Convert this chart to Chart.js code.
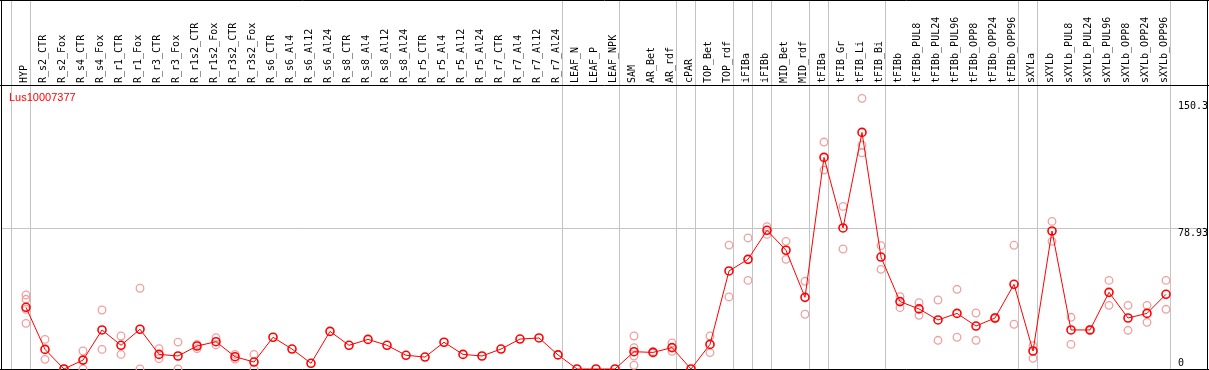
<!DOCTYPE html>
<html><head><meta charset="utf-8">
<script src="https://cdn.jsdelivr.net/npm/chart.js@4/dist/chart.umd.min.js"></script>
<style>html,body{margin:0;padding:0;background:#fff;overflow:hidden}canvas{display:block}</style>
</head><body>
<canvas id="c" width="1209" height="370"></canvas>
<script>
const N = null;
const categories = ["HYP","R_s2_CTR","R_s2_Fox","R_s4_CTR","R_s4_Fox","R_r1_CTR","R_r1_Fox","R_r3_CTR","R_r3_Fox","R_r1s2_CTR",
"R_r1s2_Fox","R_r3s2_CTR","R_r3s2_Fox","R_s6_CTR","R_s6_Al4","R_s6_Al12","R_s6_Al24","R_s8_CTR","R_s8_Al4","R_s8_Al12",
"R_s8_Al24","R_r5_CTR","R_r5_Al4","R_r5_Al12","R_r5_Al24","R_r7_CTR","R_r7_Al4","R_r7_Al12","R_r7_Al24","LEAF_N",
"LEAF_P","LEAF_NPK","SAM","AR_Bet","AR_rdf","cPAR","TOP_Bet","TOP_rdf","iFIBa","iFIBb",
"MID_Bet","MID_rdf","tFIBa","tFIB_Gr","tFIB_Li","tFIB_Bi","tFIBb","tFIBb_PUL8","tFIBb_PUL24","tFIBb_PUL96",
"tFIBb_OPP8","tFIBb_OPP24","tFIBb_OPP96","sXYLa","sXYLb","sXYLb_PUL8","sXYLb_PUL24","sXYLb_PUL96","sXYLb_OPP8","sXYLb_OPP24",
"sXYLb_OPP96"];
const meanValues = [34.6,11.0,0,5.0,21.9,13.3,22.3,8.2,7.3,12.9,
15.3,6.9,3.9,17.8,11.2,3.2,21.1,13.3,16.6,13.3,
7.7,6.7,15.0,8.2,7.3,11.2,16.8,17.4,7.9,0,
0,0,9.7,9.3,12.0,0,13.8,55.0,61.5,77.8,
66.6,40.2,118.7,79.1,132.7,62.8,37.8,33.7,27.5,31.2,
24.1,28.6,47.5,10.1,77.4,21.9,21.9,43.0,28.6,31.2,
41.9];
const rep1 = [41.5,16.6,0,10.1,33.1,18.5,45.3,11.4,15.1,13.8,
17.6,8.2,8.2,N,N,N,N,N,N,N,
N,N,N,N,N,N,N,N,N,N,
N,N,18.5,9.7,14.6,N,18.5,69.5,73.5,79.8,
71.6,49.2,127.3,91.2,151.8,69.2,40.6,37.2,38.7,44.7,
31.4,28.9,69.4,13.1,82.8,29.0,22.2,49.7,35.7,35.7,
49.7];
const rep2 = [39.1,5.4,0,0,11.0,8.2,0,5.8,0,11.4,
13.5,5.6,0,N,N,N,N,N,N,N,
N,N,N,N,N,N,N,N,N,N,
N,N,12.0,9.0,9.9,N,9.2,40.4,49.7,75.5,
61.5,30.7,111.6,67.3,125.6,55.9,34.4,30.1,16.1,17.8,
16.1,28.2,25.1,6.0,71.6,13.8,21.6,35.7,21.7,26.2,
33.5];
const rep3 = [33.5,N,N,N,N,N,N,N,N,N,
N,N,N,N,N,N,N,N,N,N,
N,N,N,N,N,N,N,N,N,N,
N,N,7.3,N,N,N,N,N,N,N,
N,N,N,N,121.3,N,N,N,N,N,
N,N,N,N,N,N,N,N,N,N,
N];
const rep4 = [25.6,N,N,N,N,N,N,N,N,N,
N,N,N,N,N,N,N,N,N,N,
N,N,N,N,N,N,N,N,N,N,
N,N,2.1,N,N,N,N,N,N,N,
N,N,N,N,N,N,N,N,N,N,
N,N,N,N,N,N,N,N,N,N,
N];
const groupEnds = [-1,0,28,31,34,35,37,38,39,41,42,45,52,53,60];
const yTickValues = [150.3, 78.93, 0];
const yTickLabels = ["150.3", "78.93", "0"];
const gridValue = 78.93;
const seriesName = "Lus10007377";

const MONO = '10px "DejaVu Sans Mono", monospace';
const RED = '#ff0000';
const PINK = '#f0a0a0';
const GRAY = '#c4c4c4';

const decor = {
  id: 'decor',
  beforeDraw(chart) {
    const ctx = chart.ctx;
    ctx.save();
    ctx.fillStyle = '#fff';
    ctx.fillRect(0, 0, chart.width, chart.height);
    ctx.restore();
  },
  beforeDatasetsDraw(chart) {
    const ctx = chart.ctx, xs = chart.scales.x, ys = chart.scales.y;
    const step = xs.getPixelForValue(1) - xs.getPixelForValue(0);
    const px = i => xs.getPixelForValue(0) + i * step;
    ctx.save();
    ctx.strokeStyle = GRAY; ctx.lineWidth = 1;
    ctx.beginPath();
    groupEnds.forEach(i => {
      const x = Math.round(px(i) + 4) + 0.5;
      ctx.moveTo(x, 0); ctx.lineTo(x, 369);
    });
    const gy = Math.round(ys.getPixelForValue(gridValue)) + 0.5;
    ctx.moveTo(1, gy); ctx.lineTo(1208, gy);
    ctx.stroke();
    ctx.strokeStyle = '#000';
    ctx.beginPath();
    ctx.moveTo(0, 0.5); ctx.lineTo(1209, 0.5);
    ctx.moveTo(0, 85.5); ctx.lineTo(1209, 85.5);
    ctx.moveTo(0, 369.5); ctx.lineTo(1209, 369.5);
    ctx.moveTo(1.5, 0); ctx.lineTo(1.5, 370);
    ctx.moveTo(1207.5, 0); ctx.lineTo(1207.5, 370);
    ctx.stroke();
    ctx.fillStyle = '#000';
    ctx.font = MONO;
    ctx.textAlign = 'left';
    ctx.textBaseline = 'alphabetic';
    categories.forEach((lab, i) => {
      ctx.save();
      ctx.translate(Math.round(px(i)) + 0.5, 83);
      ctx.rotate(-Math.PI / 2);
      ctx.fillText(lab, 0, 0);
      ctx.restore();
    });
    yTickValues.forEach((v, k) => {
      const y = ys.getPixelForValue(v);
      if (v === 0) { ctx.textBaseline = 'alphabetic'; ctx.fillText(yTickLabels[k], 1178, y - 3); }
      else { ctx.textBaseline = 'top'; ctx.fillText(yTickLabels[k], 1178, y); }
    });
    ctx.fillStyle = RED;
    ctx.font = '11px "Liberation Sans", Arial, sans-serif';
    ctx.textBaseline = 'alphabetic';
    ctx.fillText(seriesName, 9, 101);
    ctx.restore();
  }
};

const repStyle = (data) => ({
  data, showLine: false, borderColor: PINK, backgroundColor: 'transparent',
  pointRadius: 3.8, pointBorderWidth: 1.3, pointBorderColor: PINK, pointBackgroundColor: 'transparent', clip: false
});

new Chart(document.getElementById('c'), {
  type: 'line',
  data: {
    labels: categories,
    datasets: [
      { label: seriesName, data: meanValues, borderColor: RED, borderWidth: 1, backgroundColor: 'transparent',
        pointRadius: 4, pointBorderWidth: 1.6, pointBorderColor: RED, pointBackgroundColor: 'transparent', tension: 0, clip: false },
      repStyle(rep1), repStyle(rep2), repStyle(rep3), repStyle(rep4)
    ]
  },
  options: {
    responsive: false, animation: false, devicePixelRatio: 1, events: [],
    layout: { autoPadding: false, padding: { left: 16.5, right: 33.5, top: 85, bottom: 1 } },
    plugins: { legend: { display: false }, tooltip: { enabled: false } },
    scales: {
      x: { type: 'category', offset: true, display: false },
      y: { type: 'linear', min: 0, max: 159.3, display: false }
    }
  },
  plugins: [decor]
});
</script>
</body></html>
